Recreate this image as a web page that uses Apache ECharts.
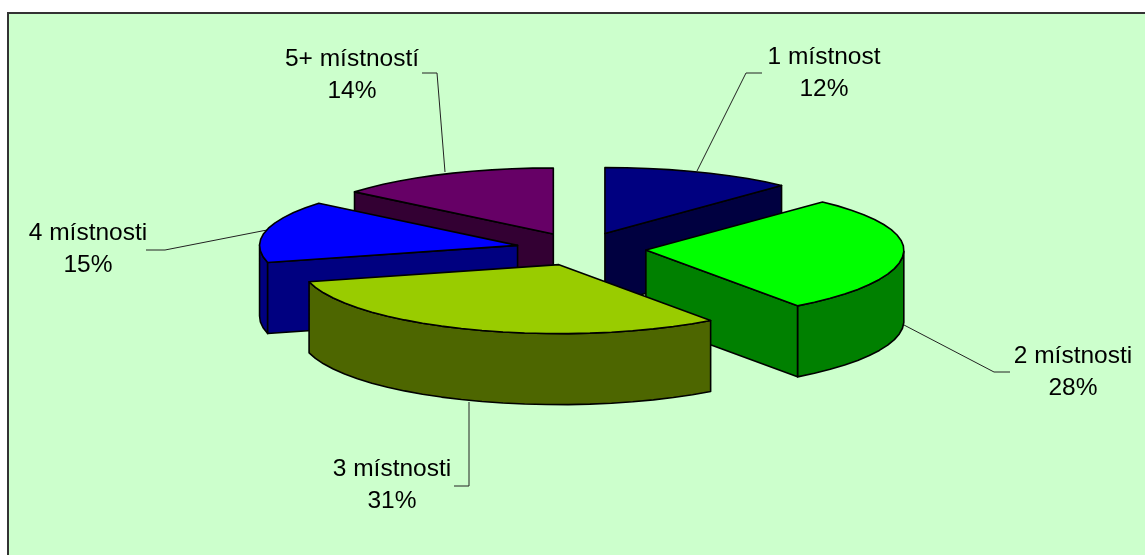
<!DOCTYPE html>
<html><head><meta charset="utf-8">
<style>html,body{margin:0;padding:0;background:#fff}#c{width:1145px;height:555px}</style>
<script src="https://cdn.jsdelivr.net/npm/echarts@6/dist/echarts.min.js"></script>
</head><body><div id="c"></div>
<script>
var categories = ['1 místnost','2 místnosti','3 místnosti','4 místnosti','5+ místností'];
var values = [12,28,31,15,14];
var topColors = ['#000080','#00FF00','#99CC00','#0000FF','#660066'];
var sideColors = ['#000040','#008000','#4D6600','#000080','#330033'];

// layout of the tilted pie
var CX=581, CY=249, RX=258, RY_BACK=66, RY_FRONT=69, DEPTH=71, EXPLODE=65, STEP=5;
// label layout: text centre, rim anchor, elbow and end of the leader line
var labelLayout = [
  {tx:824,ty:57,elbow:[746,73],end:[762,73],anchor:[697,171]},
  {tx:1073,ty:356,elbow:[994,372],end:[1010,372],anchor:[904,325]},
  {tx:392,ty:469,elbow:[469,486],end:[454,486],anchor:[469,402]},
  {tx:88,ty:233,elbow:[165,250],end:[146,250],anchor:[267,230]},
  {tx:352,ty:59,elbow:[437,73],end:[422,73],anchor:[445,172]}
];
var FONT='"Liberation Sans", Arial, sans-serif';
var total = values.reduce(function(a,b){return a+b;},0);
var starts=[]; (function(){var s=0;values.forEach(function(v){starts.push(s);s+=v;});})();

function renderSlice(params, api){
  var i=params.dataIndex, v=api.value(0);
  var a0=starts[i]/total*2*Math.PI, a1=(starts[i]+v)/total*2*Math.PI, mid=(a0+a1)/2;
  var ax=CX+EXPLODE*Math.sin(mid), ay=CY-EXPLODE*(RY_BACK/RX)*Math.cos(mid);
  var depthOrder=Math.round(ay)*10;
  function rim(a){var c=Math.cos(a);return [ax+RX*Math.sin(a), ay-(c>0?RY_BACK:RY_FRONT)*c];}
  function down(p){return [p[0],p[1]+DEPTH];}
  var stepRad=STEP*Math.PI/180, arc=[], n=Math.ceil((a1-a0)/stepRad), k;
  for(k=0;k<=n;k++) arc.push(rim(a0+(a1-a0)*k/n));
  function poly(pts,fill,lift){return {type:'polygon',z2:depthOrder+lift,shape:{points:pts},style:{fill:fill,stroke:'#000',lineWidth:1.6,lineJoin:'round'}};}
  var ch=[], apex=[ax,ay];
  // outer wall: only the part facing the viewer
  var f=[]; for(k=0;k<=n;k++){var t=a0+(a1-a0)*k/n; if(Math.cos(t)<=0.02) f.push(rim(t));}
  if(f.length>1) ch.push(poly(f.concat(f.map(down).reverse()),sideColors[i],1));
  // cut faces facing the viewer
  if(Math.sin(a0)<-1e-6){var p0=rim(a0);ch.push(poly([apex,p0,down(p0),down(apex)],sideColors[i],2));}
  if(Math.sin(a1)>1e-6){var p1=rim(a1);ch.push(poly([apex,p1,down(p1),down(apex)],sideColors[i],2));}
  ch.push(poly([apex].concat(arc),topColors[i],3));
  var L=labelLayout[i];
  var leader={type:'polyline',z2:1,shape:{points:[L.anchor,L.elbow,L.end]},style:{fill:null,stroke:'#222',lineWidth:1}};
  var text={type:'text',z2:9000,style:{text:categories[i]+'\n'+Math.round(v/total*100)+'%',x:L.tx,y:L.ty-16,align:'center',verticalAlign:'top',
    font:'24.5px '+FONT,lineHeight:32,fill:'#000'}};
  ch.push(leader,text);
  return {type:'group',children:ch};
}
var chart=echarts.init(document.getElementById('c'),null,{renderer:'canvas'});
chart.setOption({
  animation:false,
  backgroundColor:'#fff',
  graphic:[{type:'rect',z:-1,shape:{x:8,y:13,width:1160,height:560},style:{fill:'#CCFFCC',stroke:'#333',lineWidth:2}}],
  series:[{type:'custom',coordinateSystem:'none',
    data:values.map(function(v,i){return {name:categories[i],value:[v]};}),
    encode:{value:0},renderItem:renderSlice,clip:false}]
});
</script></body></html>
